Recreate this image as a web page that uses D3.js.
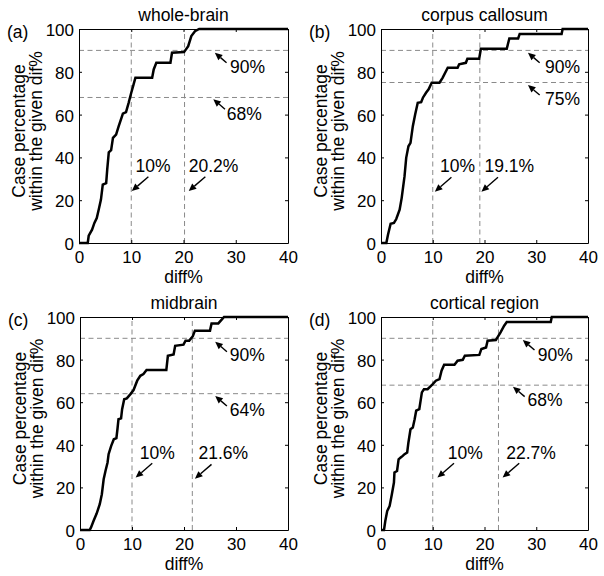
<!DOCTYPE html>
<html><head><meta charset="utf-8">
<script src="https://cdn.jsdelivr.net/npm/d3@7"></script>
<style>
body{margin:0;background:#fff}
svg{display:block}
text{font-family:"Liberation Sans",Arial,sans-serif;fill:#000}
</style>
</head><body>
<svg id="chart" width="604" height="576"></svg>
<script>
// ---------- data ----------
const xTicks = [0, 10, 20, 30, 40];
const yTicks = [0, 20, 40, 60, 80, 100];
const titles = ["whole-brain", "corpus callosum", "midbrain", "cortical region"];
const tags = ["(a)", "(b)", "(c)", "(d)"];
const xLabel = "diff%";
const yLabelLines = ["Case percentage", "within the given dif%"];

// cumulative case percentage vs diff% (vertices of the step curves)
const curveA = [[0,0],[1.67,0],[1.86,3.4],[2.5,6.2],[2.95,9.4],[3.4,11.7],[3.8,15.9],[4.2,20.3],[4.55,27.3],[5.2,28],[5.4,34.3],[5.7,42.4],[6.15,43.4],[6.5,49.1],[7.1,50.7],[7.6,54.6],[8.4,60.5],[9.0,61.2],[9.5,65.5],[10.0,70.2],[10.45,74.1],[10.8,77.2],[14.0,77.2],[14.3,81.1],[14.8,84.2],[17.5,84.2],[17.8,88.9],[20.1,89.2],[20.9,92],[21.5,96.7],[22.2,99],[23.0,100],[40,100]];
const curveB = [[0,0],[1.03,0],[1.35,3.9],[1.86,9.0],[2.5,9.4],[2.95,11.2],[3.6,15.6],[4.0,21.1],[4.55,31.2],[4.87,39.8],[5.3,45.2],[5.7,46.8],[6.15,54.6],[6.6,60],[7.1,65.5],[7.76,65.8],[8.1,67.9],[8.7,70.2],[9.2,71.8],[9.8,74.9],[11.3,74.9],[11.9,77.2],[12.9,81.9],[14.8,81.9],[15.1,83.5],[16.4,84.2],[16.7,86.1],[18.97,86.1],[19.3,90.8],[24.3,90.8],[24.8,95.6],[26.5,95.6],[26.8,97.7],[34.9,97.7],[35.1,100],[40,100]];
const curveC = [[0,0],[1.86,0],[2.1,1.1],[2.6,4.2],[3.2,7.7],[3.8,12.1],[4.2,16.8],[4.55,23.8],[4.9,27.7],[5.3,31.7],[5.5,35.6],[6.0,39.5],[6.5,42.6],[7.0,43.1],[7.2,47.3],[7.4,52],[7.9,52.4],[8.1,56.7],[8.5,61.4],[9.0,61.8],[9.7,63.8],[10.3,65.7],[11.0,70.1],[11.6,72.4],[12.2,73.2],[12.8,75.1],[16.6,75.1],[16.9,81.8],[18.0,82.4],[18.3,86.5],[19.9,87],[20.3,88.9],[21.0,88.9],[21.7,91],[22.1,93.6],[25.0,93.6],[25.3,97],[26.6,97],[27.7,100],[40,100]];
const curveD = [[0,0],[0.58,0],[0.83,4.2],[1.2,8.9],[1.67,11.3],[2.1,16.8],[2.5,22.3],[2.6,27],[3.1,27.7],[3.4,33.2],[3.8,34],[4.2,34.8],[4.55,35.6],[5.06,36.4],[5.3,41.1],[5.7,47.3],[6.15,48.1],[6.5,52],[6.8,56],[7.4,56.7],[7.9,64.6],[8.3,66.1],[9.0,66.1],[10.0,68.5],[10.6,70.1],[11.3,70.8],[11.7,74.8],[12.2,77.6],[14.2,77.6],[14.8,79.5],[15.8,79.9],[16.2,81.8],[19.0,82.2],[19.4,85],[20.3,85.7],[20.6,88.9],[22.2,89.2],[22.6,90.8],[23.1,92.8],[23.8,95.9],[24.3,97.6],[32.8,97.6],[33.0,100],[40,100]];

// reference (dashed) lines
const hLinesA = [90, 68], hLinesB = [90, 75], hLinesC = [90, 64], hLinesD = [90, 68];
const vLinesA = [10, 20.2], vLinesB = [10, 19.1], vLinesC = [10, 21.6], vLinesD = [10, 22.7];

// annotations: [label, tipX, tipY, textX, textY, kind]  (data units)
const annA = [["90%",26.0,88.9,28.9,82.4,"h"],["68%",25.7,67.2,28.3,60.6,"h"],["10%",10.1,24.3,10.8,36.1,"v"],["20.2%",21.0,24.3,21.0,36.1,"v"]];
const annB = [["90%",28.4,88.9,31.7,82.4,"h"],["75%",28.4,73.8,31.7,67.6,"h"],["10%",10.4,24.0,11.4,36.1,"v"],["19.1%",19.4,24.0,20.0,36.1,"v"]];
const annC = [["90%",26.0,88.4,28.8,82.1,"h"],["64%",26.0,62.9,28.8,56.6,"h"],["10%",10.7,24.6,11.5,36.4,"v"],["21.6%",22.1,24.1,22.8,36.4,"v"]];
const annD = [["90%",27.4,89.2,30.3,82.1,"h"],["68%",25.5,67.3,28.3,61.1,"h"],["10%",10.9,24.6,12.9,36.4,"v"],["22.7%",23.5,24.6,24.2,36.4,"v"]];

// ---------- layout ----------
const boxes = [
  {l:79, r:288, t:29, b:243},
  {l:381, r:588, t:29, b:243},
  {l:80, r:288, t:317, b:530},
  {l:381, r:588, t:317, b:530}
];
const panels = [
  {curve:curveA, h:hLinesA, v:vLinesA, ann:annA},
  {curve:curveB, h:hLinesB, v:vLinesB, ann:annB},
  {curve:curveC, h:hLinesC, v:vLinesC, ann:annC},
  {curve:curveD, h:hLinesD, v:vLinesD, ann:annD}
];
const FS = 17.5, TFS = 17;
const svg = d3.select("#chart");

panels.forEach((p, i) => {
  const bx = boxes[i];
  const x = d3.scaleLinear().domain([0, 40]).range([bx.l, bx.r]);
  const y = d3.scaleLinear().domain([0, 100]).range([bx.b, bx.t]);
  const g = svg.append("g");

  // dashed reference lines
  p.h.forEach(v => g.append("line").attr("x1", x(0)).attr("x2", x(40)).attr("y1", y(v)).attr("y2", y(v))
    .attr("stroke", "#8a8a8a").attr("stroke-width", 1).attr("stroke-dasharray", "5,3.5"));
  p.v.forEach(v => g.append("line").attr("x1", x(v)).attr("x2", x(v)).attr("y1", y(0)).attr("y2", y(100))
    .attr("stroke", "#8a8a8a").attr("stroke-width", 1).attr("stroke-dasharray", "5,3.5"));

  // axes (inward ticks on all four sides)
  const tl = 3;
  const axB = d3.axisBottom(x).tickValues(xTicks).tickSizeInner(-tl).tickSizeOuter(0).tickPadding(6);
  const axT = d3.axisTop(x).tickValues(xTicks).tickSizeInner(-tl).tickSizeOuter(0).tickFormat("");
  const axL = d3.axisLeft(y).tickValues(yTicks).tickSizeInner(-tl).tickSizeOuter(0).tickPadding(6);
  const axR = d3.axisRight(y).tickValues(yTicks).tickSizeInner(-tl).tickSizeOuter(0).tickFormat("");
  const gb = g.append("g").attr("transform", `translate(0,${bx.b})`).call(axB);
  const gt = g.append("g").attr("transform", `translate(0,${bx.t})`).call(axT);
  const gl = g.append("g").attr("transform", `translate(${bx.l},0)`).call(axL);
  const gr = g.append("g").attr("transform", `translate(${bx.r},0)`).call(axR);
  [gb, gt, gl, gr].forEach(a => {
    a.selectAll(".domain").attr("stroke", "#000").attr("stroke-width", 1);
    a.selectAll(".tick line").attr("stroke", "#000");
    a.selectAll("text").style("font-size", TFS + "px").attr("font-family", null).attr("fill", "#000");
  });
  gb.selectAll(".tick text").attr("dy", "0.8em");
  gl.selectAll(".tick text").attr("dy", "0.38em").attr("x", -5);

  // curve
  g.append("path").datum(p.curve)
    .attr("d", d3.line().x(d => x(d[0])).y(d => y(d[1])))
    .attr("fill", "none").attr("stroke", "#000").attr("stroke-width", 2.5).attr("stroke-linejoin", "miter");

  // annotations
  p.ann.forEach(a => {
    const tx = x(a[1]), ty = y(a[2]);
    const off = a[5] === "h" ? [11.7, 10] : [16.6, -14.3];
    const sx = tx + off[0], sy = ty + off[1];
    const ang = Math.atan2(ty - sy, tx - sx);
    const hl = 7.5, hw = 3.4;
    const bxp = tx - hl * Math.cos(ang), byp = ty - hl * Math.sin(ang);
    g.append("line").attr("x1", sx).attr("y1", sy).attr("x2", bxp).attr("y2", byp)
      .attr("stroke", "#000").attr("stroke-width", 1.4);
    const px = -Math.sin(ang), py = Math.cos(ang);
    g.append("path").attr("d", `M${tx},${ty}L${bxp + hw*px},${byp + hw*py}L${bxp - hw*px},${byp - hw*py}Z`)
      .attr("fill", "#000");
    g.append("text").attr("x", x(a[3])).attr("y", y(a[4])).attr("dy", "0.36em")
      .style("font-size", FS + "px").text(a[0]);
  });

  // title
  g.append("text").attr("x", (bx.l + bx.r) / 2).attr("y", bx.t - 14).attr("dy", "0.36em")
    .attr("text-anchor", "middle").style("font-size", FS + "px").text(titles[i]);
  // panel tag
  g.append("text").attr("x", bx.l - 72).attr("y", bx.t + 3).attr("dy", "0.36em")
    .style("font-size", FS + "px").text(tags[i]);
  // x label
  g.append("text").attr("x", (bx.l + bx.r) / 2).attr("y", bx.b + 34).attr("dy", "0.36em")
    .attr("text-anchor", "middle").style("font-size", FS + "px").text(xLabel);
  // y label (two lines)
  const cy = (bx.t + bx.b) / 2 - 5;
  yLabelLines.forEach((s, k) => {
    const lx = bx.l - 60 + k * 16.5;
    g.append("text").attr("transform", `translate(${lx},${cy}) rotate(-90)`).attr("dy", "0.36em")
      .attr("text-anchor", "middle").style("font-size", FS + "px").text(s);
  });
});
</script>
</body></html>
